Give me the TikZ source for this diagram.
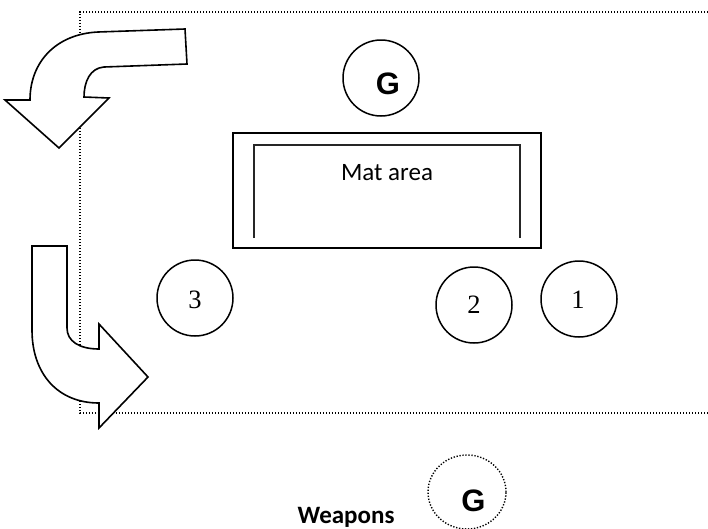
\documentclass[tikz,border=0pt]{standalone}
\usepackage{fontspec}
\usetikzlibrary{shapes.geometric}
\setmainfont{Liberation Serif}
\newfontfamily\calibrifont{Carlito}
\newfontfamily\gfont{Liberation Sans}
\begin{document}
\begin{tikzpicture}[x=1pt,y=-1pt,
  seat/.style={draw, circle, line width=1.5pt, minimum size=76pt, inner sep=0pt},
  guard/.style={font=\gfont\bfseries\fontsize{31}{31}\selectfont, inner sep=0pt, anchor=base},
  num/.style={font=\fontsize{26.5}{26.5}\selectfont, inner sep=0pt, anchor=base},
  turn/.style={draw, fill=white, line width=1.6pt, line join=miter},
  border/.style={line width=1.4pt, dash pattern=on 1.3pt off 1.7pt}
]
\useasboundingbox (0,0) rectangle (708,528);

% dotted outline of the hall (open to the right)
\draw[border] (720,12) -- (80,12) -- (80,413) -- (720,413);

% curved arrow, top left
\draw[turn] (185,29) -- (187,64) -- (104,67)
  .. controls (90,68) and (84,82) .. (84,97)
  -- (109,98) -- (59,148) -- (5,100) -- (30,100)
  .. controls (30,62) and (56,34) .. (98,32) -- cycle;

% curved arrow, lower left
\draw[turn] (32,246) -- (67,246) -- (67,328)
  .. controls (67,341) and (79,349) .. (99,349)
  -- (99,324) -- (148,377) -- (99,428) -- (99,403)
  .. controls (58,403) and (32,374) .. (32,330) -- cycle;

% mat area
\node[draw, line width=2.2pt, minimum width=308pt, minimum height=115pt, inner sep=0pt] (mat) at (387,190.5) {};
\draw[line width=1.8pt, draw=black!85] (254,238) -- (254,145) -- (520,145) -- (520,238);
\node[font=\calibrifont\fontsize{25}{25}\selectfont, inner sep=0pt, anchor=base] (matlabel) at (387,180) {Mat area};

% guard at the top
\node[seat] (gtop) at (381,78) {};
\node[guard] (gtoplabel) at (388,94) {G};

% numbered positions
\node[seat] (p3) at (195,298) {};
\node[num] (p3label) at (195,308) {3};
\node[seat] (p2) at (474,305) {};
\node[num] (p2label) at (474,313) {2};
\node[seat] (p1) at (579,299) {};
\node[num] (p1label) at (578,308) {1};

% weapons guard
\node[draw, ellipse, line width=1.4pt, dash pattern=on 1.3pt off 1.7pt, minimum width=78pt, minimum height=74pt, inner sep=0pt] (gweap) at (467,492) {};
\node[guard] (gweaplabel) at (473.5,511) {G};
\node[font=\calibrifont\bfseries\fontsize{25}{25}\selectfont, inner sep=0pt, anchor=base] (weapons) at (346,523) {Weapons};
\end{tikzpicture}
\end{document}
